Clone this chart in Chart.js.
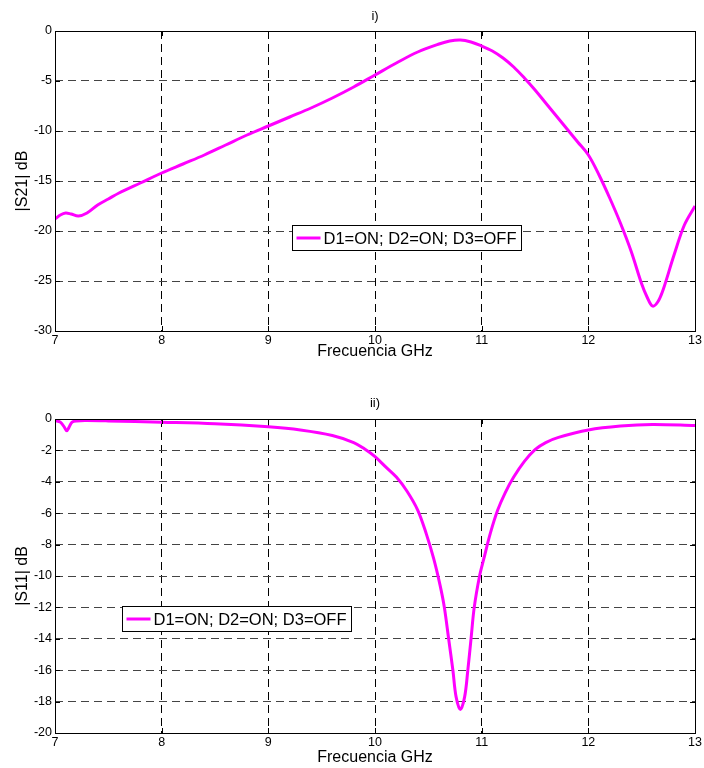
<!DOCTYPE html>
<html>
<head>
<meta charset="utf-8">
<title>S21 / S11</title>
<script src="https://cdn.jsdelivr.net/npm/chart.js@4.4.1/dist/chart.umd.min.js"></script>
<style>
  body { margin: 0; background: #fff; }
  .panel { position: absolute; left: 0; width: 704px; height: 384px; }
  #p1 { top: 0; }
  #p2 { top: 384px; }
</style>
</head>
<body>
<div class="panel" id="p1"><canvas id="s21Chart" width="704" height="384"></canvas></div>
<div class="panel" id="p2"><canvas id="s11Chart" width="704" height="384"></canvas></div>
<script>
// transmission |S21| (dB) vs frequency (GHz)
const s21Freq = [7.0, 7.05, 7.1, 7.15, 7.22, 7.3, 7.4, 7.5, 7.6, 7.8, 8.0, 8.2, 8.4, 8.6, 8.8,
  9.0, 9.2, 9.4, 9.6, 9.8, 10.0, 10.2, 10.4, 10.6, 10.7, 10.8, 10.9, 11.0, 11.1, 11.2, 11.3,
  11.4, 11.5, 11.6, 11.7, 11.8, 11.9, 12.0, 12.1, 12.2, 12.3, 12.4, 12.5, 12.55, 12.6, 12.65,
  12.7, 12.8, 12.9, 13.0];
const s21Db = [-18.8, -18.4, -18.2, -18.3, -18.5, -18.2, -17.4, -16.8, -16.2, -15.2, -14.2, -13.3,
  -12.4, -11.4, -10.4, -9.5, -8.6, -7.7, -6.7, -5.6, -4.4, -3.2, -2.1, -1.3, -1.0, -0.9, -1.1,
  -1.5, -2.0, -2.7, -3.6, -4.7, -5.9, -7.2, -8.5, -9.8, -11.1, -12.4, -14.4, -16.7, -19.2, -22.0,
  -25.3, -26.6, -27.5, -27.1, -25.9, -22.5, -19.4, -17.5];

// reflection |S11| (dB) vs frequency (GHz)
const s11Freq = [7.0, 7.05, 7.09, 7.11, 7.13, 7.16, 7.2, 7.3, 7.5, 8.0, 8.5, 9.0, 9.3, 9.6, 9.8,
  9.9, 10.0, 10.1, 10.2, 10.3, 10.4, 10.48, 10.55, 10.61, 10.65, 10.69, 10.73, 10.76, 10.8,
  10.84, 10.87, 10.9, 10.93, 10.98, 11.02, 11.08, 11.15, 11.22, 11.3, 11.4, 11.5, 11.6, 11.72,
  12.0, 12.3, 12.6, 13.0];
const s11Db = [-0.1, -0.2, -0.55, -0.75, -0.55, -0.2, -0.12, -0.1, -0.12, -0.2, -0.3, -0.5, -0.7,
  -1.05, -1.5, -1.9, -2.4, -3.05, -3.7, -4.6, -5.8, -7.3, -8.9, -10.6, -12.0, -14.0, -16.0, -17.7,
  -18.5, -17.7, -16.0, -14.0, -12.0, -10.0, -8.9, -7.3, -5.8, -4.7, -3.7, -2.7, -1.95, -1.5, -1.17,
  -0.7, -0.45, -0.35, -0.42];

const seriesLabel = 'D1=ON; D2=ON; D3=OFF';
const xLabel = 'Frecuencia GHz';
const xTicks = [7, 8, 9, 10, 11, 12, 13];

Chart.defaults.font.family = '"Liberation Sans", Arial, sans-serif';
Chart.defaults.color = '#000';

// box around the axes plus short inward tick marks on every side
const framePlugin = {
  id: 'frame',
  afterDraw(chart) {
    const { ctx, chartArea: a, scales } = chart;
    ctx.save();
    ctx.strokeStyle = '#000';
    ctx.lineWidth = 1;
    ctx.strokeRect(Math.round(a.left) + 0.5, Math.round(a.top) + 0.5,
      Math.round(a.right - a.left), Math.round(a.bottom - a.top));
    ctx.beginPath();
    scales.x.ticks.forEach(t => {
      const px = Math.round(scales.x.getPixelForValue(t.value)) + 0.5;
      ctx.moveTo(px, a.bottom); ctx.lineTo(px, a.bottom - 5);
      ctx.moveTo(px, a.top); ctx.lineTo(px, a.top + 5);
    });
    scales.y.ticks.forEach(t => {
      const py = Math.round(scales.y.getPixelForValue(t.value)) + 0.5;
      ctx.moveTo(a.left, py); ctx.lineTo(a.left + 5, py);
      ctx.moveTo(a.right, py); ctx.lineTo(a.right - 5, py);
    });
    ctx.stroke();
    ctx.restore();
  }
};

// legend box placed inside the plot area (fractions of the area)
const boxLegendPlugin = {
  id: 'boxLegend',
  afterDatasetsDraw(chart, args, opts) {
    const { ctx, chartArea: a } = chart;
    const ds = chart.data.datasets[0];
    ctx.save();
    ctx.font = opts.fontSize + 'px ' + Chart.defaults.font.family;
    const tw = ctx.measureText(ds.label).width;
    const x = Math.round(a.left + opts.left * (a.right - a.left)) + 0.5;
    const y = Math.round(a.top + opts.top * (a.bottom - a.top)) + 0.5;
    const w = Math.round(4 + 24 + 3 + tw + 5);
    const h = 25;
    ctx.fillStyle = '#fff';
    ctx.fillRect(x, y, w, h);
    ctx.strokeStyle = '#000';
    ctx.lineWidth = 1;
    ctx.strokeRect(x, y, w, h);
    ctx.strokeStyle = ds.borderColor;
    ctx.lineWidth = 3;
    ctx.beginPath();
    ctx.moveTo(x + 4, y + h / 2);
    ctx.lineTo(x + 28, y + h / 2);
    ctx.stroke();
    ctx.fillStyle = '#000';
    ctx.textBaseline = 'middle';
    ctx.fillText(ds.label, x + 31, y + h / 2 + 1);
    ctx.restore();
  }
};

function makePanel(canvasId, cfg) {
  const points = cfg.freq.map((f, i) => ({ x: f, y: cfg.db[i] }));
  new Chart(document.getElementById(canvasId), {
    type: 'line',
    data: {
      datasets: [{
        label: seriesLabel,
        data: points,
        borderColor: '#ff00ff',
        borderWidth: 3,
        pointRadius: 0,
        tension: 0.35,
        fill: false
      }]
    },
    plugins: [framePlugin, boxLegendPlugin],
    options: {
      responsive: false,
      animation: false,
      layout: { padding: { left: 0, right: 7, top: 0, bottom: cfg.padBottom } },
      plugins: {
        legend: { display: false },
        tooltip: { enabled: false },
        title: {
          display: true,
          fullSize: false,
          text: cfg.title,
          font: { size: 13, weight: 'normal' },
          color: '#000',
          padding: cfg.titlePad
        },
        boxLegend: { left: cfg.legendLeft, top: cfg.legendTop, fontSize: 16.5 }
      },
      scales: {
        x: {
          type: 'linear',
          min: 7,
          max: 13,
          afterBuildTicks: s => { s.ticks = xTicks.map(v => ({ value: v })); },
          afterFit: s => { s.height = cfg.xHeight; },
          ticks: { font: { size: 12.5 }, color: '#000', padding: 2, maxRotation: 0 },
          grid: { color: '#000', lineWidth: 1, drawTicks: false },
          border: { display: false, dash: [8, 5] },
          title: { display: true, text: xLabel, font: { size: 16 }, color: '#000', padding: 0 }
        },
        y: {
          min: cfg.yMin,
          max: 0,
          afterFit: s => { s.width = 55; },
          ticks: { stepSize: cfg.yStep, font: { size: 12.5 }, color: '#000', padding: 3 },
          grid: { color: '#444', lineWidth: 1, drawTicks: false },
          border: { display: false, dash: [8, 5] },
          title: {
            display: true, text: cfg.yLabel, font: { size: 16 }, color: '#000',
            padding: { top: 12.5, bottom: 0 }
          }
        }
      }
    }
  });
}

makePanel('s21Chart', {
  freq: s21Freq, db: s21Db, title: 'i)', yLabel: '|S21| dB',
  yMin: -30, yStep: 5,
  titlePad: { top: 9, bottom: 6.4 },
  padBottom: 22.5, xHeight: 30.5,
  legendLeft: 0.371, legendTop: 0.647
});

makePanel('s11Chart', {
  freq: s11Freq, db: s11Db, title: 'ii)', yLabel: '|S11| dB',
  yMin: -20, yStep: 2,
  titlePad: { top: 12, bottom: 7.4 },
  padBottom: 0.5, xHeight: 34.5,
  legendLeft: 0.104, legendTop: 0.596
});
</script>
</body>
</html>
